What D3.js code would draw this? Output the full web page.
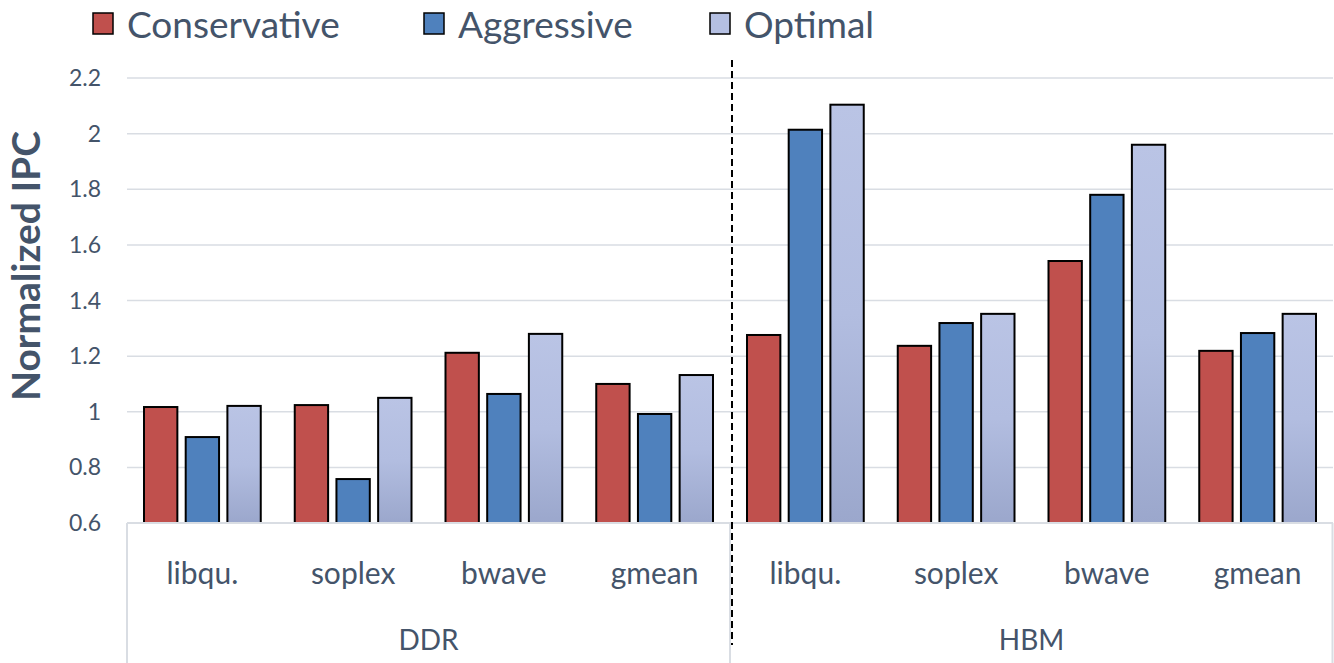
<!DOCTYPE html>
<html>
<head>
<meta charset="utf-8">
<script src="https://cdn.jsdelivr.net/npm/d3@7"></script>
<style>
  body { margin: 0; background: #fff; }
  text { font-family: Lato, "Open Sans", sans-serif; fill: #44546a; }
</style>
</head>
<body>
<div id="chart"></div>
<script>
// Data ////////////////////////////////////////////////////////////////
const groups = ['DDR', 'HBM'];
const benchmarks = ['libqu.', 'soplex', 'bwave', 'gmean'];
const series = ['Conservative', 'Aggressive', 'Optimal'];
const conservative = [1.017, 1.024, 1.212, 1.100, 1.276, 1.237, 1.542, 1.219];
const aggressive   = [0.909, 0.758, 1.064, 0.992, 2.014, 1.319, 1.780, 1.283];
const optimal      = [1.021, 1.050, 1.280, 1.132, 2.104, 1.352, 1.960, 1.352];
const yTicks = [0.6, 0.8, 1, 1.2, 1.4, 1.6, 1.8, 2, 2.2];

const width = 1334, height = 663;
const margin = { left: 127, right: 1, top: 78, bottom: 140 };

const svg = d3.select('#chart').append('svg')
  .attr('width', width).attr('height', height);

const defs = svg.append('defs');
const grad = defs.append('linearGradient').attr('id', 'optGrad')
  .attr('x1', 0).attr('y1', 0).attr('x2', 0).attr('y2', 1);
grad.append('stop').attr('offset', '0%').attr('stop-color', '#bac4e5');
grad.append('stop').attr('offset', '50%').attr('stop-color', '#b2bde0');
grad.append('stop').attr('offset', '100%').attr('stop-color', '#9ba7cc');

const fills = ['#c0504d', '#4f81bd', 'url(#optGrad)'];
const legendFills = ['#c0504d', '#4f81bd', '#b4bfe2'];

// categories: group|bench
const cats = [];
groups.forEach(g => benchmarks.forEach(b => cats.push(g + '|' + b)));

const x = d3.scaleBand().domain(cats).range([margin.left, width - margin.right]);
const xs = d3.scaleBand().domain(series).range([17, x.bandwidth() - 17]).paddingInner(0.2);
const y = d3.scaleLinear().domain([0.6, 2.2]).range([height - margin.bottom, margin.top]);

// gridlines
svg.append('g').selectAll('line')
  .data(yTicks.slice(1))
  .join('line')
  .attr('x1', margin.left).attr('x2', width - margin.right)
  .attr('y1', d => y(d)).attr('y2', d => y(d))
  .attr('stroke', '#d9dde3').attr('stroke-width', 1.5);

// y tick labels
svg.append('g').selectAll('text')
  .data(yTicks)
  .join('text')
  .attr('x', 101).attr('y', d => y(d))
  .attr('dy', '0.35em')
  .attr('text-anchor', 'end')
  .attr('font-size', 23)
  .text(d => d3.format('')(d));

// y title
svg.append('text')
  .attr('transform', `translate(40, 266) rotate(-90)`)
  .attr('text-anchor', 'middle')
  .attr('font-size', 39).attr('font-weight', 'bold')
  .text('Normalized IPC');

// bars
const values = [conservative, aggressive, optimal];
series.forEach((s, si) => {
  svg.append('g').selectAll('rect')
    .data(values[si])
    .join('rect')
    .attr('x', (d, i) => x(cats[i]) + xs(s))
    .attr('width', xs.bandwidth())
    .attr('y', d => y(d))
    .attr('height', d => y(0.6) - y(d))
    .attr('fill', fills[si])
    .attr('stroke', '#000').attr('stroke-width', 2);
});

// axis frame
const axisY = y(0.6);
svg.append('line')
  .attr('x1', margin.left).attr('x2', width - margin.right)
  .attr('y1', axisY).attr('y2', axisY)
  .attr('stroke', '#d9dde3').attr('stroke-width', 2);

[margin.left, x(cats[4]), width - margin.right - 0.5].forEach(px => {
  svg.append('line')
    .attr('x1', px).attr('x2', px)
    .attr('y1', axisY).attr('y2', height)
    .attr('stroke', '#d9dde3').attr('stroke-width', 2);
});

// category labels
svg.append('g').selectAll('text')
  .data(cats)
  .join('text')
  .attr('x', d => x(d) + x.bandwidth() / 2)
  .attr('y', 584)
  .attr('text-anchor', 'middle')
  .attr('font-size', 30)
  .text(d => d.split('|')[1]);

// group labels
groups.forEach((g, gi) => {
  const x0 = x(cats[gi * 4]), x1 = x(cats[gi * 4 + 3]) + x.bandwidth();
  svg.append('text')
    .attr('x', (x0 + x1) / 2).attr('y', 650)
    .attr('text-anchor', 'middle')
    .attr('font-size', 28)
    .text(g);
});

// dashed divider
svg.append('line')
  .attr('x1', x(cats[4]) + 2).attr('x2', x(cats[4]) + 2)
  .attr('y1', 60).attr('y2', 645)
  .attr('stroke', '#000').attr('stroke-width', 2)
  .attr('stroke-dasharray', '7,4');

// legend
const legendX = [93, 424, 710];
series.forEach((s, si) => {
  const g = svg.append('g').attr('transform', `translate(${legendX[si]}, 13)`);
  g.append('rect').attr('width', 20).attr('height', 21)
    .attr('fill', legendFills[si]).attr('stroke', '#000').attr('stroke-width', 1.5);
  g.append('text').attr('x', 34).attr('y', 12).attr('dy', '0.35em')
    .attr('font-size', 37).text(s);
});
</script>
</body>
</html>
